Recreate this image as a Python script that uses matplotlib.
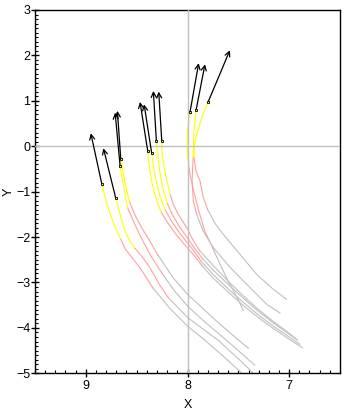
import matplotlib
matplotlib.use("Agg")
import matplotlib.pyplot as plt
from matplotlib.ticker import MultipleLocator

plt.rcParams['font.family'] = ['Liberation Sans', 'DejaVu Sans']

# ---- data: trajectories (start -> end) ----
c1_x = [7.44, 7.65, 7.83, 8.00, 8.17, 8.34, 8.47, 8.61, 8.66, 8.71, 8.76, 8.81, 8.843]
c1_y = [-5.05, -4.62, -4.27, -3.96, -3.58, -3.12, -2.67, -2.27, -2.03, -1.79, -1.50, -1.13, -0.83]
c2_x = [7.33, 7.50, 7.70, 7.85, 8.00, 8.19, 8.28, 8.37, 8.45, 8.52, 8.565, 8.614, 8.663, 8.705]
c2_y = [-5.05, -4.68, -4.27, -4.02, -3.77, -3.33, -3.03, -2.67, -2.42, -2.24, -2.10, -1.87, -1.50, -1.15]
c3_x = [7.34, 7.50, 7.67, 7.84, 8.00, 8.13, 8.25, 8.37, 8.47, 8.53, 8.59, 8.614, 8.646, 8.663]
c3_y = [-4.82, -4.50, -4.17, -3.85, -3.52, -3.18, -2.80, -2.38, -1.95, -1.66, -1.35, -1.06, -0.66, -0.43]
c4_x = [7.40, 7.55, 7.70, 7.85, 8.00, 8.14, 8.29, 8.38, 8.45, 8.52, 8.57, 8.60, 8.63, 8.656]
c4_y = [-4.45, -4.17, -3.88, -3.57, -3.26, -2.90, -2.40, -2.05, -1.80, -1.50, -1.22, -0.95, -0.62, -0.29]
c5_x = [6.868, 7.00, 7.15, 7.30, 7.45, 7.60, 7.75, 7.86, 7.93, 8.00, 8.10, 8.19, 8.26, 8.31, 8.35, 8.375, 8.391]
c5_y = [-4.44, -4.25, -4.02, -3.78, -3.51, -3.21, -2.90, -2.62, -2.42, -2.24, -1.98, -1.70, -1.45, -1.15, -0.80, -0.45, -0.11]
c6_x = [6.895, 7.00, 7.15, 7.30, 7.45, 7.60, 7.75, 7.87, 7.94, 8.00, 8.08, 8.16, 8.22, 8.27, 8.31, 8.335, 8.352]
c6_y = [-4.36, -4.20, -3.97, -3.72, -3.44, -3.14, -2.82, -2.52, -2.30, -2.13, -1.90, -1.64, -1.40, -1.10, -0.75, -0.45, -0.154]
c7_x = [6.917, 7.00, 7.15, 7.30, 7.45, 7.60, 7.75, 7.85, 7.93, 8.00, 8.08, 8.15, 8.20, 8.24, 8.27, 8.29, 8.306]
c7_y = [-4.27, -4.14, -3.90, -3.64, -3.35, -3.04, -2.72, -2.48, -2.25, -2.02, -1.77, -1.50, -1.25, -0.95, -0.60, -0.25, 0.11]
c8_x = [6.937, 7.00, 7.15, 7.30, 7.45, 7.60, 7.75, 7.88, 7.95, 8.00, 8.04, 8.09, 8.14, 8.17, 8.204, 8.228, 8.25, 8.253]
c8_y = [-4.23, -4.12, -3.87, -3.60, -3.30, -2.97, -2.62, -2.30, -2.05, -1.82, -1.68, -1.50, -1.28, -1.06, -0.76, -0.47, -0.18, 0.11]
c9_x = [7.45, 7.52, 7.60, 7.68, 7.75, 7.83, 7.89, 7.94, 7.976, 7.99, 8.003, 8.003, 7.998, 7.975]
c9_y = [-3.62, -3.30, -2.97, -2.60, -2.25, -1.87, -1.42, -0.98, -0.62, -0.40, -0.14, 0.15, 0.37, 0.755]
c10_x = [7.09, 7.222, 7.386, 7.58, 7.747, 7.845, 7.91, 7.943, 7.955, 7.945, 7.936, 7.916]
c10_y = [-3.67, -3.48, -3.11, -2.67, -2.23, -1.87, -1.50, -1.20, -0.76, -0.25, 0.34, 0.79]
c11_x = [7.026, 7.157, 7.32, 7.484, 7.648, 7.73, 7.80, 7.845, 7.877, 7.917, 7.936, 7.933, 7.91, 7.86, 7.796]
c11_y = [-3.37, -3.15, -2.82, -2.38, -1.94, -1.70, -1.40, -1.13, -0.76, -0.54, -0.25, 0.0, 0.26, 0.63, 0.98]

# index where each trajectory turns from gray to pink, and from pink to yellow
pink_start = [5, 5, 6, 6, 7, 7, 7, 7, 4, 6, 6]
yellow_start = [8, 9, 10, 10, 12, 12, 12, 13, 9, 9, 10]

# arrow tips (direction vectors drawn from each trajectory's last point)
tip_x = [8.951, 8.827, 8.712, 8.690, 8.467, 8.427, 8.336, 8.283, 7.890, 7.828, 7.583]
tip_y = [0.286, -0.044, 0.740, 0.780, 0.976, 0.925, 1.218, 1.203, 1.830, 1.806, 2.115]

xs = [c1_x, c2_x, c3_x, c4_x, c5_x, c6_x, c7_x, c8_x, c9_x, c10_x, c11_x]
ys = [c1_y, c2_y, c3_y, c4_y, c5_y, c6_y, c7_y, c8_y, c9_y, c10_y, c11_y]

GRAY = '#c0c0c0'
PINK = '#ffa0a0'
YELLOW = '#ffff00'

fig = plt.figure(figsize=(3.51, 4.13), dpi=100)
ax = fig.add_axes([35/351, 1-373.3/413, 305/351, 363.3/413])

lw = 0.8
for x, y, p, yl, tx, ty in zip(xs, ys, pink_start, yellow_start, tip_x, tip_y):
    ax.plot(x[:p+1], y[:p+1], color=GRAY, lw=lw, zorder=2)
    ax.plot(x[p:yl+1], y[p:yl+1], color=PINK, lw=lw, zorder=2)
    ax.plot(x[yl:], y[yl:], color=YELLOW, lw=lw, zorder=2)
    ax.annotate('', xy=(tx, ty), xytext=(x[-1], y[-1]),
                arrowprops=dict(arrowstyle='->', color='black', lw=0.9,
                                shrinkA=0, shrinkB=0, mutation_scale=9),
                zorder=5)
    ax.plot([x[-1]], [y[-1]], marker='s', ms=2.0, mfc=YELLOW, mec='black',
            mew=0.6, zorder=6)

ax.axvline(8, color=GRAY, lw=1.0, zorder=3)
ax.axhline(0, color=GRAY, lw=1.0, zorder=3)

ax.set_xlim(9.5, 6.5)
ax.set_ylim(-5, 3)
ax.set_xticks([9, 8, 7])
ax.set_xticklabels(['9', '8', '7'])
ax.set_yticks([-5, -4, -3, -2, -1, 0, 1, 2, 3])
ax.xaxis.set_minor_locator(MultipleLocator(0.1))
ax.yaxis.set_minor_locator(MultipleLocator(0.1))
ax.tick_params(which='major', direction='inout', length=6, width=1, labelsize=9, pad=2)
ax.tick_params(axis='y', which='major', pad=0.5)
ax.tick_params(which='minor', direction='in', length=2.5, width=0.8)
for s in ax.spines.values():
    s.set_linewidth(1.0)
ax.set_xlabel('X', fontsize=9, labelpad=5)
ax.set_ylabel('Y', fontsize=9)
ax.yaxis.set_label_coords(-0.068, 0.5)

fig.savefig('out.png', dpi=100)
